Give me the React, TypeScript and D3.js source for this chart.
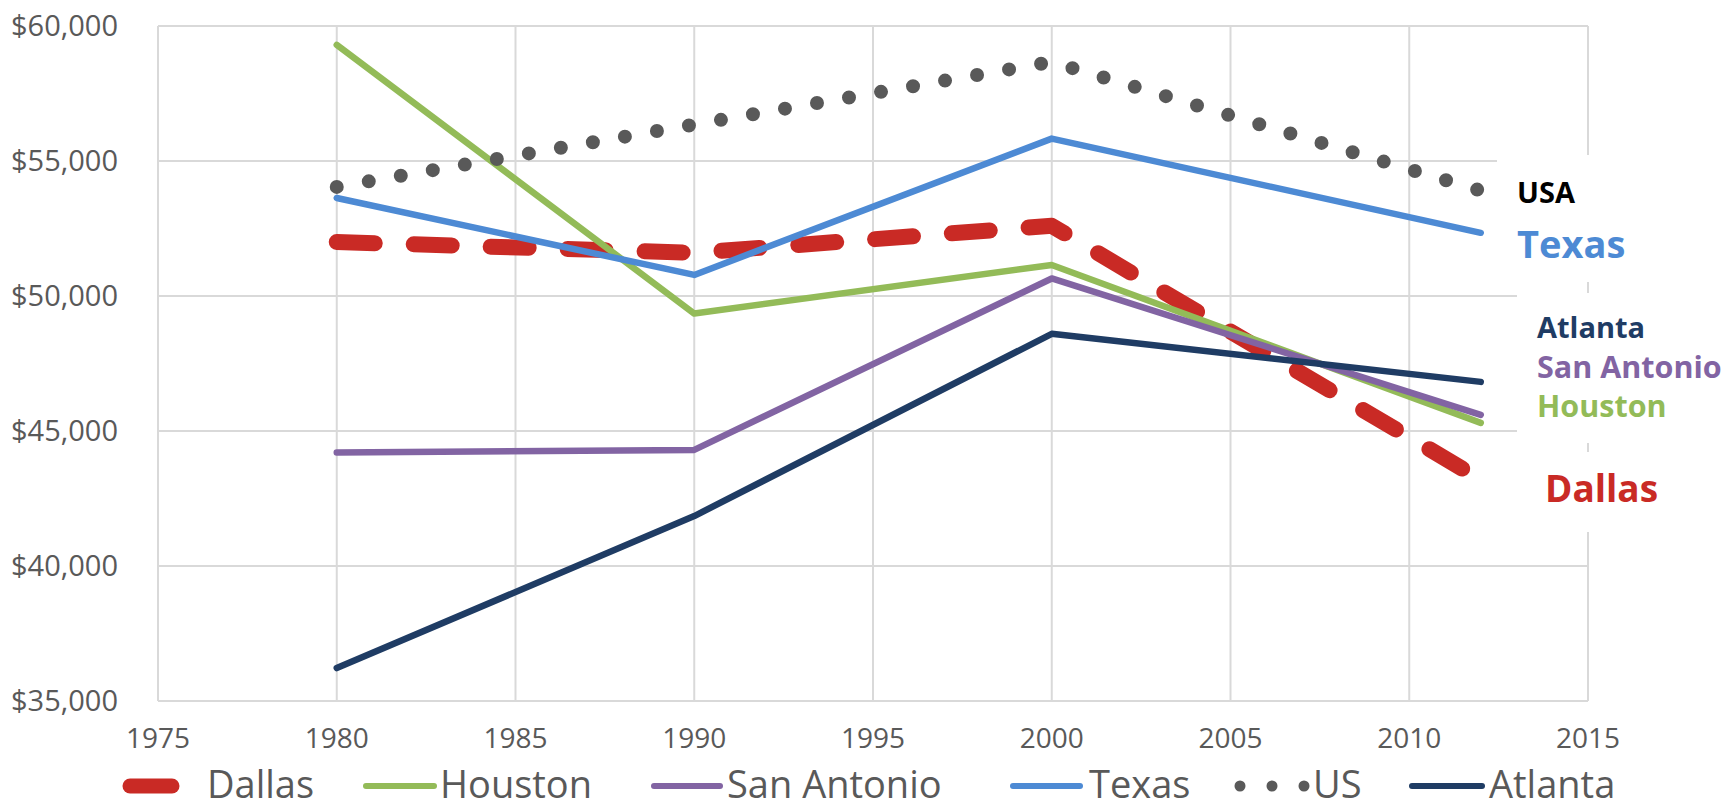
import { useMemo } from "react";
import * as d3 from "d3";

// ---- data (median household income) ----
const years = [1980, 1990, 2000, 2012];
const dallas = [52000, 51600, 52600, 43200];
const houston = [59300, 49350, 51150, 45300];
const sanAntonio = [44200, 44300, 50650, 45600];
const texas = [53630, 50780, 55830, 52340];
const us = [54040, 56350, 58670, 53900];
const atlanta = [36220, 41850, 48600, 46820];

const xTicks = [1975, 1980, 1985, 1990, 1995, 2000, 2005, 2010, 2015];
const yTicks = [35000, 40000, 45000, 50000, 55000, 60000];

const W = 1733;
const H = 809;
const FONT = "'Open Sans', 'Liberation Sans', sans-serif";
const AXIS_GREY = "#595959";

type Series = {
  name: string;
  values: number[];
  color: string;
  width: number;
  dash?: string;
};

const series: Series[] = [
  { name: "Dallas", values: dallas, color: "#c92a25", width: 16, dash: "38 39" },
  { name: "Houston", values: houston, color: "#93bb58", width: 6.5 },
  { name: "San Antonio", values: sanAntonio, color: "#8264a3", width: 6.5 },
  { name: "Texas", values: texas, color: "#4d8ad4", width: 6.5 },
  { name: "US", values: us, color: "#595959", width: 14, dash: "0 32.5" },
  { name: "Atlanta", values: atlanta, color: "#1f3c64", width: 6.5 },
];

// legend layout (swatch start/end, text start)
const legendItems = [
  { key: "Dallas", x0: 130, x1: 172, tx: 207 },
  { key: "Houston", x0: 366, x1: 434, tx: 440 },
  { key: "San Antonio", x0: 654, x1: 720, tx: 727 },
  { key: "Texas", x0: 1013, x1: 1080, tx: 1089 },
  { key: "US", x0: 1240, x1: 1304, tx: 1313 },
  { key: "Atlanta", x0: 1412, x1: 1482, tx: 1489 },
];

// end-of-line labels
const endLabels = [
  { text: "USA", color: "#000000", x: 1517, y: 203, size: 29 },
  { text: "Texas", color: "#4d8ad4", x: 1517, y: 258, size: 38 },
  { text: "Atlanta", color: "#1f3c64", x: 1537, y: 338, size: 29 },
  { text: "San Antonio", color: "#8264a3", x: 1537, y: 378, size: 30.5 },
  { text: "Houston", color: "#93bb58", x: 1537, y: 417, size: 30.5 },
  { text: "Dallas", color: "#c92a25", x: 1545, y: 502, size: 37 },
];

// white boxes behind the labels (they hide the gridlines)
const labelBoxes = [
  { x: 1497, y: 155, w: 160, h: 127 },
  { x: 1517, y: 293, w: 216, h: 150 },
  { x: 1517, y: 452, w: 170, h: 80 },
];

export default function App() {
  const x = useMemo(() => d3.scaleLinear().domain([1975, 2015]).range([158, 1588]), []);
  const y = useMemo(() => d3.scaleLinear().domain([35000, 60000]).range([701, 26]), []);

  const line = d3
    .line<number>()
    .x((_, i) => x(years[i]))
    .y((d) => y(d));

  const legendY = 786;

  return (
    <svg
      width={W}
      height={H}
      style={{ position: "absolute", left: 0, top: 0, background: "#fff" }}
      fontFamily={FONT}
    >
      <rect width={W} height={H} fill="#fff" />

      {/* ------- grid ------- */}
      {yTicks.map((t) => (
        <line key={"gy" + t} x1={x(1975)} x2={x(2015)} y1={y(t)} y2={y(t)} stroke="#d9d9d9" strokeWidth={2} />
      ))}
      {xTicks.map((t) => (
        <line key={"gx" + t} x1={x(t)} x2={x(t)} y1={y(35000)} y2={y(60000)} stroke="#d9d9d9" strokeWidth={2} />
      ))}

      {/* ------- axis labels ------- */}
      {yTicks.map((t) => (
        <text key={"ly" + t} x={118} y={y(t) + 10} textAnchor="end" fontSize={29} fill={AXIS_GREY}>
          {d3.format("$,")(t)}
        </text>
      ))}
      {xTicks.map((t) => (
        <text key={"lx" + t} x={x(t)} y={748} textAnchor="middle" fontSize={28} fill={AXIS_GREY}>
          {t}
        </text>
      ))}

      {/* ------- series ------- */}
      {series.map((s) => (
        <path
          key={s.name}
          d={line(s.values) ?? ""}
          fill="none"
          stroke={s.color}
          strokeWidth={s.width}
          strokeLinecap="round"
          strokeLinejoin="round"
          strokeDasharray={s.dash}
        />
      ))}

      {/* ------- end labels ------- */}
      {labelBoxes.map((b, i) => (
        <rect key={"box" + i} x={b.x} y={b.y} width={b.w} height={b.h} fill="#fff" />
      ))}
      {endLabels.map((l) => (
        <text key={l.text} x={l.x} y={l.y} fontSize={l.size} fontWeight={700} fill={l.color}>
          {l.text}
        </text>
      ))}

      {/* ------- legend ------- */}
      {legendItems.map((it) => {
        const s = series.find((d) => d.name === it.key)!;
        const isDots = it.key === "US";
        return (
          <g key={"lg" + it.key}>
            {isDots ? (
              [0, 1, 2].map((k) => (
                <circle key={k} cx={it.x0 + ((it.x1 - it.x0) / 2) * k} cy={legendY} r={5.5} fill={s.color} />
              ))
            ) : (
              <line
                x1={it.x0}
                x2={it.x1}
                y1={legendY}
                y2={legendY}
                stroke={s.color}
                strokeWidth={it.key === "Dallas" ? 15 : 6}
                strokeLinecap="round"
              />
            )}
            <text x={it.tx} y={798} fontSize={38} fill={AXIS_GREY}>
              {it.key}
            </text>
          </g>
        );
      })}
    </svg>
  );
}
